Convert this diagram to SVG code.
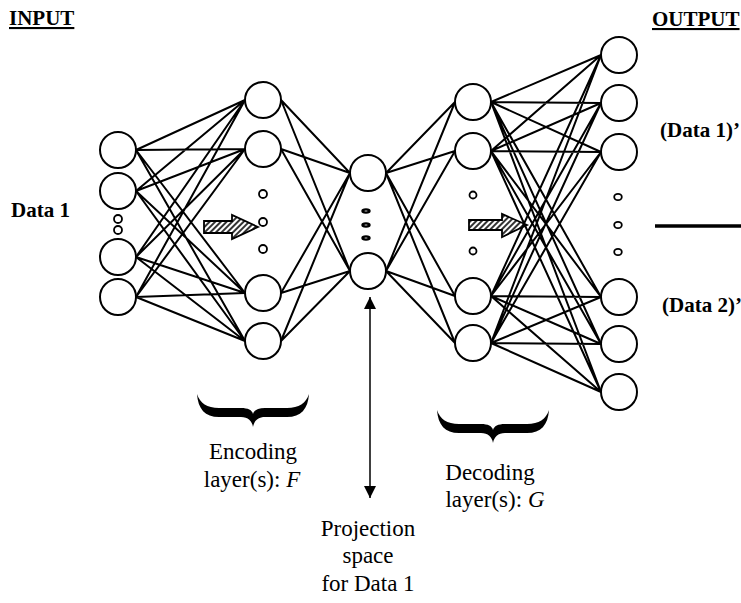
<svg xmlns="http://www.w3.org/2000/svg" width="741" height="603" viewBox="0 0 741 603">
  <defs>
    <style>
      .n { fill: #fff; stroke: #000; stroke-width: 2; }
      .dot { fill: #fff; stroke: #000; stroke-width: 1.8; }
      .dash { fill: #fff; stroke: #000; stroke-width: 2.4; }
      .e { fill: none; stroke: #000; stroke-width: 2; stroke-linecap: round; }
      .lb { font-family: "Liberation Serif", "Times New Roman", serif; font-weight: bold; font-size: 21px; fill: #000; }
      .tx { font-family: "Liberation Serif", "Times New Roman", serif; font-size: 23px; text-anchor: middle; fill: #000; }
      .flow { fill: url(#hatch); stroke: #000; stroke-width: 1.8; stroke-linejoin: miter; }
      .brace { fill: #000; }
    </style>
    <pattern id="hatch" width="4" height="4" patternUnits="userSpaceOnUse" patternTransform="rotate(45)">
      <rect width="4" height="4" fill="#fff"/>
      <line x1="1" y1="0" x2="1" y2="4" stroke="#000" stroke-width="1.6"/>
    </pattern>
    <marker id="ah" viewBox="0 0 12 12" refX="12" refY="6" markerWidth="12" markerHeight="12" markerUnits="userSpaceOnUse" orient="auto-start-reverse">
      <path d="M0,0 L12,6 L0,12 Z" fill="#000"/>
    </marker>
    <!-- horizontal curly brace, opening upward, centred on x=0 -->
    <path id="brace" class="brace" d="M-56,0 C-55,15 -48,23 -34,23 L-12,23 C-5,23 -1,27 0,33 C1,27 5,23 12,23 L34,23 C48,23 55,15 56,0 C53,9 46,14 34,14 L12,14 C5,14 1,16 0,20 C-1,16 -5,14 -12,14 L-34,14 C-46,14 -53,9 -56,0 Z"/>
  </defs>

  <rect width="741" height="603" fill="#fff"/>

  <!-- titles -->
  <text class="lb" x="9" y="25" text-decoration="underline">INPUT</text>
  <text class="lb" x="652" y="26" text-decoration="underline">OUTPUT</text>
  <text class="lb" x="11" y="217">Data 1</text>
  <text class="lb" x="660" y="137">(Data 1)’</text>
  <text class="lb" x="662" y="312">(Data 2)’</text>
  <line x1="655" y1="226" x2="741" y2="226" stroke="#000" stroke-width="3.5"/>

  <!-- flow indicators inside the hidden layers -->
  <polygon class="flow" points="204,221 232,221 232,215 258,227 232,239 232,233 204,233"/>
  <polygon class="flow" points="469,220 502,220 502,214 527,225 502,237 502,230 469,230"/>

  <!-- connections -->
  <g id="connectors">
    <path class="e" d="M136 150L245 100M136 150L245 149M136 150L245 293M136 150L245 341
      M136 191L245 100M136 191L245 149M136 191L245 293M136 191L245 341
      M136 257L245 100M136 257L245 149M136 257L245 293M136 257L245 341
      M136 297L245 100M136 297L245 149M136 297L245 293M136 297L245 341"/>
    <path class="e" d="M281 100L350 173M281 100L350 271M281 149L350 173M281 149L350 271
      M281 293L350 173M281 293L350 271M281 341L350 173M281 341L350 271"/>
    <path class="e" d="M386 173L455 102M386 173L455 151M386 173L455 296M386 173L455 343
      M386 271L455 102M386 271L455 151M386 271L455 296M386 271L455 343"/>
    <path class="e" d="M491 102L601 55M491 102L601 103M491 102L601 152M491 102L601 297M491 102L601 344M491 102L601 392
      M491 151L601 55M491 151L601 103M491 151L601 152M491 151L601 297M491 151L601 344M491 151L601 392
      M491 296L601 55M491 296L601 103M491 296L601 152M491 296L601 297M491 296L601 344M491 296L601 392
      M491 343L601 55M491 343L601 103M491 343L601 152M491 343L601 297M491 343L601 344M491 343L601 392"/>
    <line x1="370" y1="297" x2="370" y2="498" stroke="#000" stroke-width="1.5" marker-start="url(#ah)" marker-end="url(#ah)"/>
  </g>

  <!-- input layer -->
  <g id="input-layer">
    <circle class="n" cx="118" cy="150" r="18"/>
    <circle class="n" cx="118" cy="191" r="18"/>
    <circle class="dot" cx="118" cy="219" r="4"/>
    <circle class="dot" cx="118" cy="230" r="4"/>
    <circle class="n" cx="118" cy="257" r="18"/>
    <circle class="n" cx="118" cy="297" r="18"/>
  </g>

  <!-- encoding layer -->
  <g id="encoding-layer">
    <circle class="n" cx="263" cy="100" r="18"/>
    <circle class="n" cx="263" cy="149" r="18"/>
    <circle class="dot" cx="263" cy="194" r="4"/>
    <circle class="dot" cx="263" cy="222" r="4"/>
    <circle class="dot" cx="263" cy="249" r="4"/>
    <circle class="n" cx="263" cy="293" r="18"/>
    <circle class="n" cx="263" cy="341" r="18"/>
  </g>

  <!-- projection layer -->
  <g id="projection-layer">
    <circle class="n" cx="368" cy="173" r="18"/>
    <ellipse class="dash" cx="366" cy="211" rx="3.5" ry="1.6"/>
    <ellipse class="dash" cx="366" cy="225" rx="3.5" ry="1.6"/>
    <ellipse class="dash" cx="366" cy="238" rx="3.5" ry="1.6"/>
    <circle class="n" cx="368" cy="271" r="18"/>
  </g>

  <!-- decoding layer -->
  <g id="decoding-layer">
    <circle class="n" cx="473" cy="102" r="18"/>
    <circle class="n" cx="473" cy="151" r="18"/>
    <circle class="dot" cx="473" cy="195" r="3.5"/>
    <circle class="dot" cx="473" cy="251" r="3.5"/>
    <circle class="n" cx="473" cy="296" r="18"/>
    <circle class="n" cx="473" cy="343" r="18"/>
  </g>

  <!-- output layer -->
  <g id="output-layer">
    <circle class="n" cx="619" cy="55" r="18"/>
    <circle class="n" cx="619" cy="103" r="18"/>
    <circle class="n" cx="619" cy="152" r="18"/>
    <ellipse class="dot" cx="618" cy="197" rx="3.8" ry="3.2"/>
    <ellipse class="dot" cx="618" cy="225" rx="3.8" ry="3.2"/>
    <ellipse class="dot" cx="618" cy="252" rx="3.8" ry="3.2"/>
    <circle class="n" cx="619" cy="297" r="18"/>
    <circle class="n" cx="619" cy="344" r="18"/>
    <circle class="n" cx="619" cy="392" r="18"/>
  </g>

  <!-- braces and captions -->
  <g id="encoding-caption">
    <use href="#brace" transform="translate(253,394)"/>
    <text class="tx" x="253" y="459">Encoding</text>
    <text class="tx" x="252" y="487">layer(s): <tspan font-style="italic">F</tspan></text>
  </g>
  <g id="decoding-caption">
    <use href="#brace" transform="translate(493,410)"/>
    <text class="tx" x="490" y="480">Decoding</text>
    <text class="tx" x="495" y="507">layer(s): <tspan font-style="italic">G</tspan></text>
  </g>
  <g id="projection-caption">
    <text class="tx" x="368" y="536">Projection</text>
    <text class="tx" x="368" y="563">space</text>
    <text class="tx" x="368" y="591">for Data 1</text>
  </g>
</svg>
